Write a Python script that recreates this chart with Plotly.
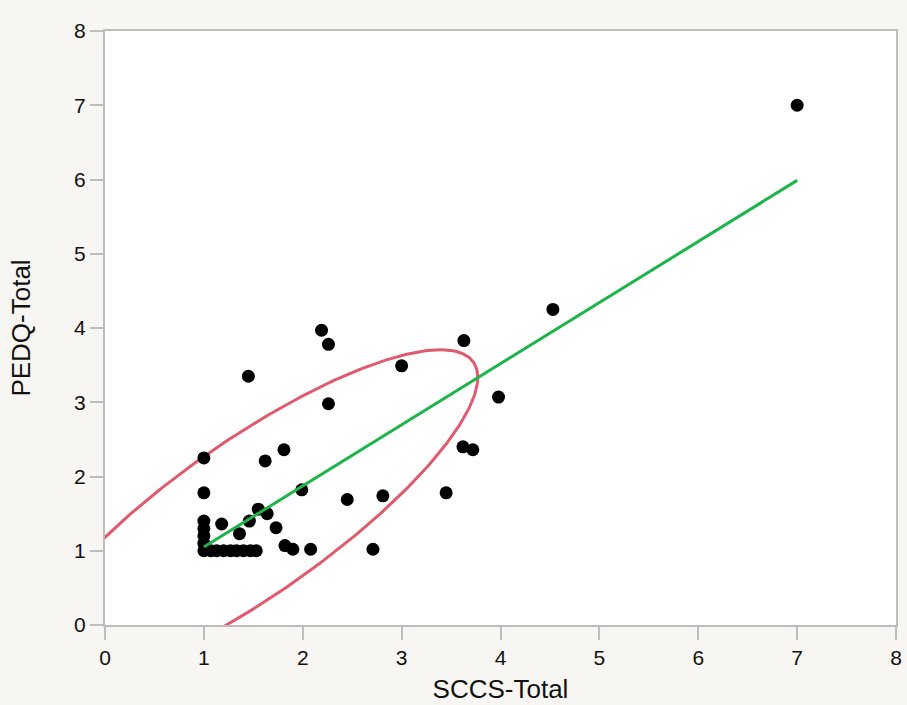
import numpy as np
import plotly.graph_objects as go

# SCCS-Total vs PEDQ-Total observations
sccs_total = [
    1.0, 1.07, 1.13, 1.2, 1.27, 1.33, 1.4, 1.47, 1.53,
    1.0, 1.0, 1.0, 1.0, 1.0, 1.0,
    1.18, 1.36, 1.46, 1.55, 1.64, 1.73, 1.82, 1.90, 2.08, 2.71,
    1.99, 2.45, 2.81, 3.45, 3.62, 3.72, 1.62, 1.81, 2.26, 3.98,
    1.45, 3.0, 2.19, 2.26, 3.63, 4.53, 7.0,
]
pedq_total = [
    1.0, 1.0, 1.0, 1.0, 1.0, 1.0, 1.0, 1.0, 1.0,
    1.1, 1.2, 1.3, 1.4, 1.78, 2.25,
    1.36, 1.23, 1.40, 1.56, 1.50, 1.31, 1.07, 1.02, 1.02, 1.02,
    1.82, 1.69, 1.74, 1.78, 2.40, 2.36, 2.21, 2.36, 2.98, 3.07,
    3.35, 3.49, 3.97, 3.78, 3.83, 4.25, 7.0,
]

# Linear fit (PEDQ-Total = intercept + slope * SCCS-Total)
fit_intercept = 0.227
fit_slope = 0.823
fit_x_range = [1.0, 7.0]

# Bivariate normal density ellipse: centre, x/y half-extents, correlation
ellipse_center = [1.47, 1.437]
ellipse_extent = [2.30, 2.27]
ellipse_rho = 0.836

axis_ticks = [0, 1, 2, 3, 4, 5, 6, 7, 8]

t = np.linspace(0, 2 * np.pi, 400)
ex = ellipse_center[0] + ellipse_extent[0] * np.cos(t)
ey = ellipse_center[1] + ellipse_extent[1] * (
    ellipse_rho * np.cos(t) + np.sqrt(1 - ellipse_rho ** 2) * np.sin(t)
)

fx = np.array(fit_x_range)
fy = fit_intercept + fit_slope * fx

FONT = "Liberation Sans, Arial, sans-serif"

fig = go.Figure()
fig.add_trace(go.Scatter(
    x=ex, y=ey, mode="lines",
    line=dict(color="#df5a6c", width=3),
    hoverinfo="skip",
))
fig.add_trace(go.Scatter(
    x=sccs_total, y=pedq_total, mode="markers",
    marker=dict(color="black", size=13),
))
fig.add_trace(go.Scatter(
    x=fx, y=fy, mode="lines",
    line=dict(color="#1db44a", width=3),
))

axis_common = dict(
    range=[0, 8],
    tickvals=axis_ticks,
    ticktext=[str(v) for v in axis_ticks],
    showgrid=False,
    zeroline=False,
    showline=True,
    linecolor="#bdbdbd",
    linewidth=2,
    mirror=True,
    ticks="outside",
    ticklen=13,
    tickwidth=2,
    tickcolor="#bdbdbd",
    automargin=False,
    tickfont=dict(family=FONT, size=21, color="#111111"),
)

fig.update_layout(
    width=907,
    height=705,
    margin=dict(l=105, r=11, t=31, b=80),
    paper_bgcolor="#f7f6f2",
    plot_bgcolor="#ffffff",
    showlegend=False,
    xaxis=dict(
        **axis_common,
        title=dict(text="SCCS-Total", standoff=12,
                   font=dict(family=FONT, size=26, color="#111111")),
    ),
    yaxis=dict(
        **axis_common,
        title=dict(text="PEDQ-Total", standoff=36,
                   font=dict(family=FONT, size=26, color="#111111")),
    ),
)

fig.write_html("out.html")
